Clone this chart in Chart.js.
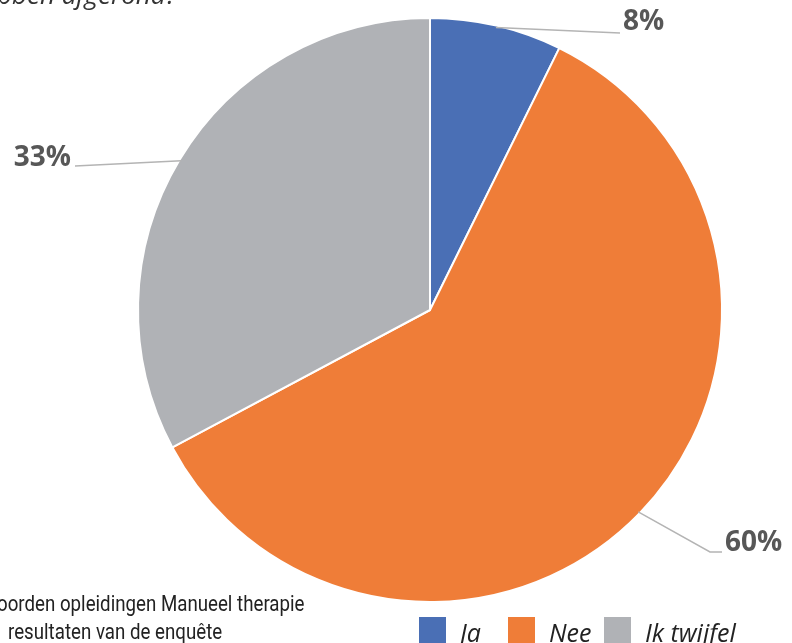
<!DOCTYPE html>
<html>
<head>
<meta charset="utf-8">
<script src="https://cdn.jsdelivr.net/npm/chart.js@4.4.0/dist/chart.umd.min.js"></script>
<style>
  html, body { margin: 0; padding: 0; background: #fff; overflow: hidden; }
  #wrap { position: relative; width: 792px; height: 643px; overflow: hidden; }
  #myChart { position: absolute; left: 0; top: 0; }
  .title { position: absolute; left: -31px; top: -24px; font: italic 26px "Open Sans", sans-serif; color: #333; white-space: nowrap; }
  .source { position: absolute; font: 22px "Roboto", sans-serif; color: #222; white-space: nowrap; transform: scaleX(0.85); transform-origin: left top; }
  #legend { position: absolute; left: 419px; top: 617px; display: flex; font: italic 25px "Open Sans", sans-serif; color: #222; white-space: nowrap; }
  #legend .item { display: flex; align-items: flex-start; flex: none; }
  #legend .box { width: 27px; height: 27px; margin-right: 14px; flex: none; }
</style>
</head>
<body>
<div id="wrap">
  <canvas id="myChart" width="792" height="643"></canvas>
  <div class="title">hebben afgerond?</div>
  <div class="source" style="left:-3px; top:591px;">oorden opleidingen Manueel therapie</div>
  <div class="source" style="left:8px; top:619px;">resultaten van de enquête</div>
  <div id="legend"></div>
</div>
<script>
  const labels = ['Ja', 'Nee', 'Ik twijfel'];
  const values = [7.3, 59.9, 32.8];
  const percentLabels = ['8%', '60%', '33%'];
  const colors = ['#4a6fb5', '#ef7d38', '#b0b2b6'];

  // legend made from the same arrays
  const legendWidths = [89, 96, 140];
  const legend = document.getElementById('legend');
  labels.forEach((l, i) => {
    const item = document.createElement('div');
    item.className = 'item';
    item.style.width = legendWidths[i] + 'px';
    item.innerHTML = '<div class="box" style="background:' + colors[i] + '"></div><span style="line-height:30px">' + l + '</span>';
    legend.appendChild(item);
  });

  // where each percentage label ends up (leader line end / text anchor)
  const labelSpots = [
    { pts: [[620, 33]], tx: 623, ty: 22, align: 'left' },
    { pts: [[710, 552], [722, 552]], tx: 725, ty: 543, align: 'left' },
    { pts: [[75, 166]], tx: 71, ty: 158, align: 'right' }
  ];

  const leaderLabels = {
    id: 'leaderLabels',
    afterDraw(chart) {
      const c = chart.ctx;
      const meta = chart.getDatasetMeta(0);
      meta.data.forEach((arc, i) => {
        const p = arc.getProps(['x', 'y', 'startAngle', 'endAngle', 'outerRadius'], true);
        const mid = (p.startAngle + p.endAngle) / 2;
        const sx = p.x + Math.cos(mid) * (p.outerRadius - 2);
        const sy = p.y + Math.sin(mid) * (p.outerRadius - 2);
        const spot = labelSpots[i];
        c.save();
        c.strokeStyle = '#b4b4b4';
        c.lineWidth = 1.5;
        c.beginPath();
        c.moveTo(sx, sy);
        spot.pts.forEach(pt => c.lineTo(pt[0], pt[1]));
        c.stroke();
        c.fillStyle = '#575757';
        c.font = 'bold 28px "Open Sans", sans-serif';
        c.textAlign = spot.align;
        c.textBaseline = 'middle';
        c.fillText(percentLabels[i], spot.tx, spot.ty);
        c.restore();
      });
    }
  };

  const ctx = document.getElementById('myChart');

  new Chart(ctx, {
    type: 'pie',
    data: {
      labels: labels,
      datasets: [{
        data: values,
        backgroundColor: colors,
        borderColor: '#ffffff',
        borderWidth: 2
      }]
    },
    options: {
      responsive: false,
      animation: false,
      layout: {
        padding: { top: 17, bottom: 40, left: 137, right: 69 }
      },
      plugins: {
        legend: { display: false },
        tooltip: { enabled: false }
      }
    },
    plugins: [leaderLabels]
  });
</script>
</body>
</html>
